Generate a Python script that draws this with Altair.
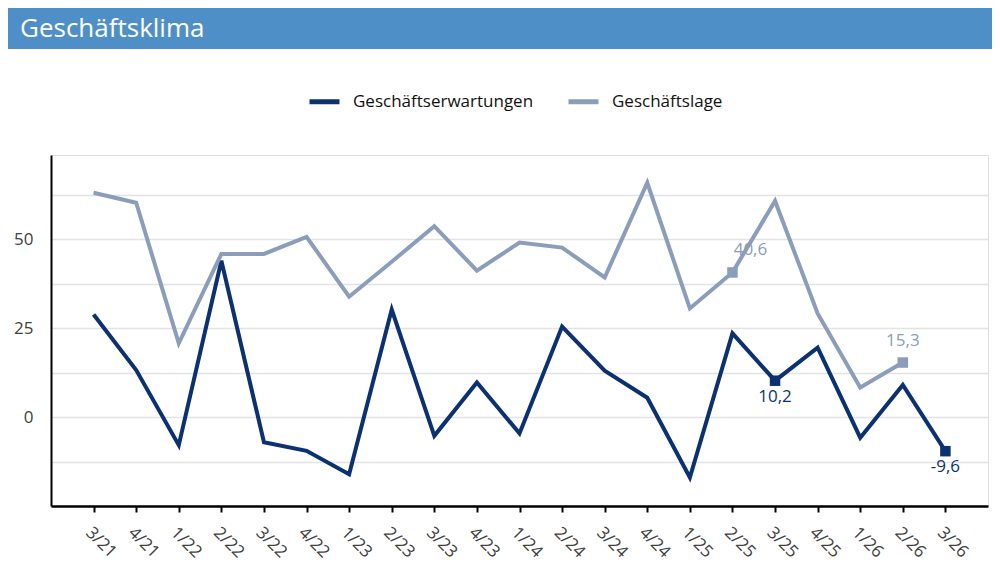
import altair as alt
import pandas as pd

quarters = ["3/21", "4/21", "1/22", "2/22", "3/22", "4/22", "1/23", "2/23", "3/23", "4/23",
            "1/24", "2/24", "3/24", "4/24", "1/25", "2/25", "3/25", "4/25", "1/26", "2/26", "3/26"]
erwartungen = [28.8, 13.2, -7.9, 43.9, -7.1, -9.5, -16.1, 30.2, -5.3, 9.7,
               -4.6, 25.4, 13.0, 5.4, -17.0, 23.5, 10.2, 19.5, -5.8, 9.0, -9.6]
lage = [63.0, 60.2, 20.7, 45.8, 45.8, 50.6, 33.8, 43.6, 53.6, 41.1,
        49.0, 47.6, 39.2, 65.8, 30.5, 40.6, 60.7, 29.1, 8.3, 15.3, None]
series_names = ["Geschäftserwartungen", "Geschäftslage"]
series_colors = ["#0b3170", "#8a9dba"]

hl_series = ["Geschäftslage", "Geschäftserwartungen", "Geschäftslage", "Geschäftserwartungen"]
hl_quarters = ["2/25", "3/25", "2/26", "3/26"]
hl_values = [40.6, 10.2, 15.3, -9.6]
hl_labels = ["40,6", "10,2", "15,3", "-9,6"]

title_text = "Geschäftsklima"
FONT = "Open Sans"

rows = []
for q, v in zip(quarters, erwartungen):
    rows.append({"Quartal": q, "Reihe": series_names[0], "Wert": v})
for q, v in zip(quarters, lage):
    if v is not None:
        rows.append({"Quartal": q, "Reihe": series_names[1], "Wert": v})
df = pd.DataFrame(rows)
hl = pd.DataFrame({"Quartal": hl_quarters, "Reihe": hl_series, "Wert": hl_values, "Label": hl_labels})

x = alt.X("Quartal:N", sort=quarters,
          scale=alt.Scale(type="point", padding=1),
          axis=alt.Axis(title=None, labelAngle=45, labelAlign="left", labelBaseline="top",
                        labelFontSize=17, labelColor="#404040", labelFont=FONT,
                        domainColor="#000000", domainWidth=2.5, tickColor="#000000",
                        tickWidth=2, tickSize=6, labelPadding=12, grid=False))
y = alt.Y("Wert:Q", scale=alt.Scale(domain=[-25, 73.6], nice=False, zero=False),
          axis=alt.Axis(title=None, values=[-12.5, 0, 12.5, 25, 37.5, 50, 62.5],
                        labelExpr="datum.value % 25 == 0 ? datum.label : ''",
                        ticks=False, tickSize=0, labelPadding=18,
                        gridColor="#e3e3e3", gridWidth=1.5,
                        domainColor="#000000", domainWidth=2,
                        labelFontSize=17, labelColor="#404040", labelFont=FONT))
color = alt.Color("Reihe:N", scale=alt.Scale(domain=series_names, range=series_colors),
                  legend=alt.Legend(title=None, orient="none", legendX=256, legendY=-71,
                                    direction="horizontal", symbolType="stroke",
                                    symbolStrokeWidth=5, symbolSize=900,
                                    labelFontSize=17, labelFont=FONT, labelColor="#111111",
                                    labelLimit=0, columnPadding=24, labelOffset=11))

lines = alt.Chart(df).mark_line(strokeWidth=4).encode(x=x, y=y, color=color)

markers = alt.Chart(hl).mark_square(size=110, opacity=1).encode(
    x=x, y=y, color=alt.Color("Reihe:N", scale=alt.Scale(domain=series_names, range=series_colors), legend=None))

tcolor = alt.Color("Reihe:N", scale=alt.Scale(domain=series_names, range=series_colors), legend=None)
lbl_ur = alt.Chart(hl).transform_filter(alt.datum.Quartal == "2/25").mark_text(
    fontSize=17, font=FONT, dx=18, dy=-22).encode(x=x, y=y, text="Label:N", color=tcolor)
lbl_u = alt.Chart(hl).transform_filter(alt.datum.Quartal == "2/26").mark_text(
    fontSize=17, font=FONT, dy=-22).encode(x=x, y=y, text="Label:N", color=tcolor)
lbl_d = alt.Chart(hl).transform_filter((alt.datum.Quartal == "3/25") | (alt.datum.Quartal == "3/26")).mark_text(
    fontSize=17, font=FONT, dy=16).encode(x=x, y=y, text="Label:N", color=tcolor)

tdf = pd.DataFrame({"t": [title_text]})
banner = alt.Chart(tdf).mark_rect(color="#4f8fc8").encode(
    x=alt.value(-43), x2=alt.value(941), y=alt.value(-147), y2=alt.value(-106))
title = alt.Chart(tdf).mark_text(align="left", baseline="middle", fontSize=26, color="#ffffff", font=FONT).encode(
    x=alt.value(-31), y=alt.value(-126), text="t:N")

chart = alt.layer(banner, title, lines, markers, lbl_ur, lbl_u, lbl_d).properties(
    width=937, height=351,
    padding={"left": 43, "top": 147, "right": 4, "bottom": 63},
    autosize=alt.AutoSizeParams(type="none"),
).configure_view(stroke=None).configure(background="#ffffff")

chart.save("out.html", embed_options={"renderer": "svg", "actions": False})
